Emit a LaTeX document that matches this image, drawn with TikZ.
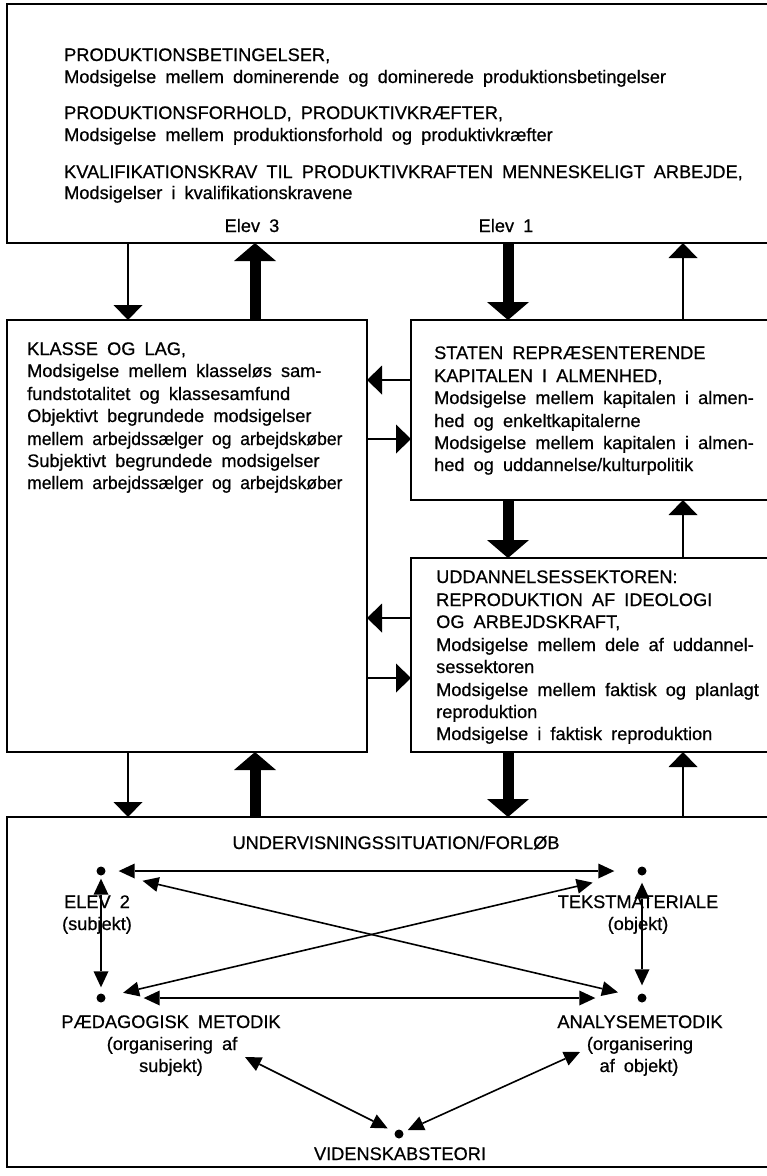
\documentclass[tikz,border=0pt]{standalone}
\usepackage{fontspec}
\usepackage{graphicx}
\setmainfont{Liberation Sans}[WordSpace=1.8,FakeBold=0.6]
\usetikzlibrary{arrows.meta,calc}
\begin{document}
\begin{tikzpicture}[x=1pt,y=-1pt,
  box/.style={draw, line width=2.2pt, rectangle, inner sep=0pt, outer sep=0pt, anchor=north west},
  tl/.style={inner sep=0pt, anchor=base west, font=\fontsize{18.2}{21}\selectfont},
  tc/.style={inner sep=0pt, anchor=base, font=\fontsize{18.2}{21}\selectfont},
  thinar/.style={line width=1.8pt, -{Triangle[width=29pt,length=15pt,line width=0pt]}},
  thickar/.style={line width=11pt, -{Triangle[width=42pt,length=18pt,line width=0pt]}},
  inar/.style={line width=1.6pt, {Triangle[width=15pt,length=16pt,line width=0pt]}-{Triangle[width=15pt,length=16pt,line width=0pt]}},
  dot/.style={circle, fill, inner sep=0pt, minimum size=9pt}]
\useasboundingbox (0,0) rectangle (767,1176);
\fill[white] (0,0) rectangle (767,1176);

% boxes
\node[box, minimum width=762pt, minimum height=239pt] (top) at (7,4) {};
\node[box, minimum width=360pt, minimum height=432pt] (klasse) at (7,320) {};
\node[box, minimum width=358pt, minimum height=180pt] (staten) at (411,320) {};
\node[box, minimum width=358pt, minimum height=194pt] (udd) at (411,558) {};
\node[box, minimum width=762pt, minimum height=350pt] (bund) at (7,817) {};

% top box text
\node[tl] (t1) at (64,61) {PRODUKTIONSBETINGELSER,};
\node[tl] (t2) at (64,83) {Modsigelse mellem dominerende og dominerede produktionsbetingelser};
\node[tl] (t3) at (64,119) {PRODUKTIONSFORHOLD, PRODUKTIVKRÆFTER,};
\node[tl] (t4) at (64,141) {Modsigelse mellem produktionsforhold og produktivkræfter};
\node[tl] (t5) at (64,178) {KVALIFIKATIONSKRAV TIL PRODUKTIVKRAFTEN MENNESKELIGT ARBEJDE,};
\node[tl] (t6) at (64,199) {Modsigelser i kvalifikationskravene};
\node[tc] (e3) at (252,232) {Elev 3};
\node[tc] (e1) at (506,232) {Elev 1};

% klasse text
\node[tl] (k1) at (27,355) {KLASSE OG LAG,};
\node[tl] (k2) at (27,377) {Modsigelse mellem klasseløs sam-};
\node[tl] (k3) at (27,400) {fundstotalitet og klassesamfund};
\node[tl] (k4) at (27,422) {Objektivt begrundede modsigelser};
\node[tl] (k5) at (27,445) {\scalebox{0.962}[1]{mellem arbejdssælger og arbejdskøber}};
\node[tl] (k6) at (27,467) {Subjektivt begrundede modsigelser};
\node[tl] (k7) at (27,489) {\scalebox{0.962}[1]{mellem arbejdssælger og arbejdskøber}};

% staten text
\node[tl] (s1) at (434,359) {STATEN REPRÆSENTERENDE};
\node[tl] (s2) at (434,382) {KAPITALEN I ALMENHED,};
\node[tl] (s3) at (434,404) {Modsigelse mellem kapitalen i almen-};
\node[tl] (s4) at (434,427) {hed og enkeltkapitalerne};
\node[tl] (s5) at (434,449) {Modsigelse mellem kapitalen i almen-};
\node[tl] (s6) at (434,471) {hed og uddannelse/kulturpolitik};

% uddannelse text
\node[tl] (u1) at (436,583) {UDDANNELSESSEKTOREN:};
\node[tl] (u2) at (436,606) {REPRODUKTION AF IDEOLOGI};
\node[tl] (u3) at (436,628) {OG ARBEJDSKRAFT,};
\node[tl] (u4) at (436,651) {Modsigelse mellem dele af uddannel-};
\node[tl] (u5) at (436,673) {sessektoren};
\node[tl] (u6) at (436,696) {Modsigelse mellem faktisk og planlagt};
\node[tl] (u7) at (436,718) {reproduktion};
\node[tl] (u8) at (436,740) {Modsigelse i faktisk reproduktion};

% column coordinates
\coordinate (ca) at (128,0);
\coordinate (cb) at (255,0);
\coordinate (cc) at (508,0);
\coordinate (cd) at (683,0);
\coordinate (r1) at (0,380);
\coordinate (r2) at (0,439);
\coordinate (r3) at (0,618);
\coordinate (r4) at (0,678);

% vertical arrows, row 1
\draw[thinar] (ca |- top.south) -- (ca |- klasse.north);
\draw[thickar] (cb |- klasse.north) -- (cb |- top.south);
\draw[thickar] (cc |- top.south) -- (cc |- staten.north);
\draw[thinar] (cd |- staten.north) -- (cd |- top.south);
% row 2
\draw[thickar] (cc |- staten.south) -- (cc |- udd.north);
\draw[thinar] (cd |- udd.north) -- (cd |- staten.south);
% row 3
\draw[thinar] (ca |- klasse.south) -- (ca |- bund.north);
\draw[thickar] (cb |- bund.north) -- (cb |- klasse.south);
\draw[thickar] (cc |- udd.south) -- (cc |- bund.north);
\draw[thinar] (cd |- bund.north) -- (cd |- udd.south);
% horizontal arrows
\draw[thinar] (staten.west |- r1) -- (klasse.east |- r1);
\draw[thinar] (klasse.east |- r2) -- (staten.west |- r2);
\draw[thinar] (udd.west |- r3) -- (klasse.east |- r3);
\draw[thinar] (klasse.east |- r4) -- (udd.west |- r4);

% bottom box
\node[tc] (uf) at (396,849) {UNDERVISNINGSSITUATION/FORLØB};
\node[dot] (tlD) at (101,871) {};
\node[dot] (trD) at (642,871) {};
\node[dot] (blD) at (101,998) {};
\node[dot] (brD) at (642,998) {};
\node[dot] (vD) at (399,1134) {};

\node[tc] (el2) at (97,908) {ELEV 2};
\node[tc] (el2b) at (97,930) {(subjekt)};
\node[tc] (tm) at (638,908) {TEKSTMATERIALE};
\node[tc] (tmb) at (638,930) {(objekt)};
\node[tc] (pm) at (171,1028) {PÆDAGOGISK METODIK};
\node[tc] (pmb) at (172,1050) {(organisering af};
\node[tc] (pmc) at (171,1072) {subjekt)};
\node[tc] (am) at (640,1028) {ANALYSEMETODIK};
\node[tc] (amb) at (640,1050) {(organisering};
\node[tc] (amc) at (639,1072) {af objekt)};
\node[tc] (vt) at (400,1160) {VIDENSKABSTEORI};

\draw[inar, shorten <=13pt, shorten >=23pt] (tlD) -- (trD);
\draw[inar, shorten <=38pt, shorten >=42pt] (blD) -- (brD);
\draw[inar, shorten <=38pt, shorten >=20pt] (tlD) -- (brD);
\draw[inar, shorten <=18pt, shorten >=46pt] (blD) -- (trD);
\draw[inar, shorten <=3pt, shorten >=6pt] (tlD) -- (blD);
\draw[inar, shorten <=7pt, shorten >=8pt] (trD) -- (brD);
\coordinate (pa) at (245,1057);
\coordinate (aa) at (580,1052);
\draw[inar, shorten >=8pt] (pa) -- (vD);
\draw[inar, shorten >=5pt] (aa) -- (vD);
\end{tikzpicture}
\end{document}
